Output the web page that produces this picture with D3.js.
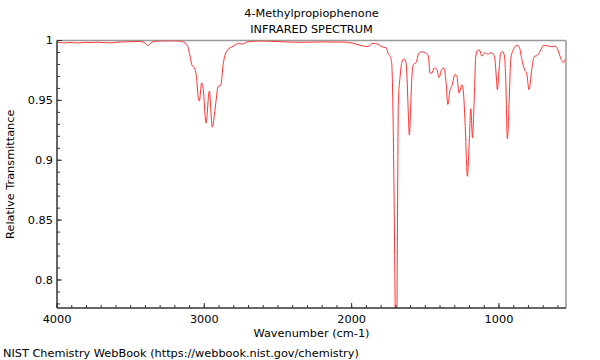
<!DOCTYPE html>
<html>
<head>
<meta charset="utf-8">
<script src="https://cdn.jsdelivr.net/npm/d3@7"></script>
<style>
  html, body { margin: 0; padding: 0; background: #fff; }
  svg { display: block; font-family: "DejaVu Sans", sans-serif; }
</style>
</head>
<body>
<svg id="chart" width="600" height="360"></svg>
<script>
const titleLines = ["4-Methylpropiophenone", "INFRARED SPECTRUM"];
const xLabel = "Wavenumber (cm-1)";
const yLabel = "Relative Transmittance";
const footer = "NIST Chemistry WebBook (https://webbook.nist.gov/chemistry)";

const xTickValues = [4000, 3000, 2000, 1000];
const yTickValues = [0.8, 0.85, 0.9, 0.95, 1];

const wavenumber = [
  4000, 3950, 3912, 3860, 3800, 3776, 3720, 3640, 3580, 3504, 3437, 3403, 3382, 3362, 3335, 3267, 3199, 3165,
  3119.5, 3097, 3086, 3063, 3052, 3041, 3034, 3018, 3007, 2988.5, 2966, 2946, 2927, 2905, 2889, 2871, 2848, 2803, 2758, 2746, 2712,
  2622, 2486, 2350, 2214, 2058, 1990, 1923, 1889, 1855, 1821, 1796, 1766, 1751, 1739, 1728, 1717, 1705, 1698.5, 1692,
  1683, 1671, 1660, 1644, 1631, 1622, 1615, 1608, 1600, 1592, 1581, 1563, 1547, 1531, 1502, 1479, 1468, 1456, 1440, 1422,
  1407, 1388, 1373, 1359, 1347, 1332, 1320, 1298, 1286, 1271, 1252, 1242, 1230, 1214, 1203, 1191, 1180, 1169, 1157, 1144,
  1128, 1117, 1094, 1076, 1054, 1031, 1020, 1011, 999, 988, 974, 963, 954, 943, 931, 920, 902, 879, 863, 845, 827, 811,
  796, 777, 762, 737, 714, 698, 664, 641, 619, 597, 578, 563, 551
];
const transmittance = [
  0.9987, 0.998, 0.9984, 0.9979, 0.9985, 0.9982, 0.9986, 0.998, 0.9987, 0.999, 0.9992, 0.998, 0.9958, 0.998, 0.9993, 0.9997, 0.9997, 0.9995,
  0.9968, 0.987, 0.980, 0.976, 0.968, 0.952, 0.9494, 0.9647, 0.959, 0.931, 0.9577, 0.9276, 0.9427, 0.962, 0.9625, 0.981, 0.991, 0.9954, 0.9977, 0.9968, 0.9987,
  0.9996, 0.999, 0.9985, 0.9988, 0.9987, 0.9977, 0.9954, 0.995, 0.9977, 0.9968, 0.9948, 0.994, 0.9887, 0.987, 0.981, 0.920, 0.783, 0.70, 0.783,
  0.948, 0.970, 0.9814, 0.9848, 0.9814, 0.962, 0.9377, 0.921, 0.942, 0.9675, 0.980, 0.9814, 0.9885, 0.9906, 0.9898, 0.987, 0.973, 0.9726, 0.977, 0.976,
  0.969, 0.976, 0.977, 0.9647, 0.9466, 0.959, 0.962, 0.9717, 0.970, 0.956, 0.963, 0.958, 0.931, 0.8866, 0.9117, 0.943, 0.9187, 0.948, 0.987, 0.992,
  0.9912, 0.987, 0.9898, 0.9885, 0.9898, 0.987, 0.973, 0.959, 0.976, 0.9898, 0.9906, 0.987, 0.9675, 0.918, 0.948, 0.9843, 0.9926, 0.996, 0.9948, 0.9843, 0.976, 0.9717,
  0.959, 0.976, 0.9864, 0.9879, 0.9926, 0.996, 0.9954, 0.9948, 0.9954, 0.9912, 0.9843, 0.9814, 0.9843
];

const svg = d3.select("#chart");
const pL = 57, pR = 566, pT = 40.5, pB = 308;
const fs = 11.3;

const x = d3.scaleLinear().domain([4000, 545]).range([pL, pR]);
const y = d3.scaleLinear().domain([0.7766, 1]).range([pB, pT]);

// frame (top & right in gray)
svg.append("line").attr("x1", pL).attr("x2", pR).attr("y1", pT).attr("y2", pT)
  .attr("stroke", "#999").attr("stroke-width", 1.5);
svg.append("line").attr("x1", pR).attr("x2", pR).attr("y1", pT).attr("y2", pB)
  .attr("stroke", "#999").attr("stroke-width", 1.5);

// clip
svg.append("clipPath").attr("id", "clip").append("rect")
  .attr("x", pL).attr("y", pT).attr("width", pR - pL).attr("height", pB - pT);

const pts = wavenumber.map((w, i) => [w, transmittance[i]]);
svg.append("path")
  .attr("clip-path", "url(#clip)")
  .attr("d", d3.line().x(d => x(d[0])).y(d => y(d[1])).curve(d3.curveMonotoneX)(pts))
  .attr("fill", "none").attr("stroke", "#ff3333").attr("stroke-width", 1);

// x axis
const xMinor = d3.range(600, 4001, 100);
const gx = svg.append("g").attr("transform", `translate(0,${pB})`);
gx.append("line").attr("x1", pL).attr("x2", pR).attr("stroke", "#333").attr("stroke-width", 1.5);
gx.selectAll(".mn").data(xMinor).join("line")
  .attr("x1", d => x(d)).attr("x2", d => x(d)).attr("y1", 0).attr("y2", -3)
  .attr("stroke", "#333");
gx.selectAll(".mj").data(xTickValues).join("line")
  .attr("x1", d => x(d)).attr("x2", d => x(d)).attr("y1", 0).attr("y2", -5)
  .attr("stroke", "#333");
gx.selectAll("text").data(xTickValues).join("text")
  .attr("x", d => x(d)).attr("y", 15).attr("text-anchor", "middle")
  .attr("font-size", fs).attr("fill", "#000").text(d => d);

// y axis
const yMinor = d3.range(78, 101, 1).map(v => v / 100);
const gy = svg.append("g").attr("transform", `translate(${pL},0)`);
gy.append("line").attr("y1", pT).attr("y2", pB).attr("stroke", "#333").attr("stroke-width", 1.5);
gy.selectAll(".mn").data(yMinor).join("line")
  .attr("y1", d => y(d)).attr("y2", d => y(d)).attr("x1", 0).attr("x2", 3)
  .attr("stroke", "#333");
gy.selectAll(".mj").data(yTickValues).join("line")
  .attr("y1", d => y(d)).attr("y2", d => y(d)).attr("x1", 0).attr("x2", 5)
  .attr("stroke", "#333");
gy.selectAll("text").data(yTickValues).join("text")
  .attr("x", -4).attr("y", d => y(d)).attr("dy", "0.35em").attr("text-anchor", "end")
  .attr("font-size", fs).attr("fill", "#000").text(d => d);

// titles
svg.selectAll(".title").data(titleLines).join("text")
  .attr("x", (pL + pR) / 2).attr("y", (d, i) => 17 + i * 16)
  .attr("text-anchor", "middle").attr("font-size", fs).attr("fill", "#000").text(d => d);

svg.append("text").attr("x", (pL + pR) / 2).attr("y", 337)
  .attr("text-anchor", "middle").attr("font-size", fs).attr("fill", "#000").text(xLabel);

svg.append("text").attr("transform", `translate(14,${(pT + pB) / 2}) rotate(-90)`)
  .attr("text-anchor", "middle").attr("font-size", fs).attr("fill", "#000").text(yLabel);

svg.append("text").attr("x", 3).attr("y", 357)
  .attr("font-size", fs).attr("fill", "#000").text(footer);
</script>
</body>
</html>
